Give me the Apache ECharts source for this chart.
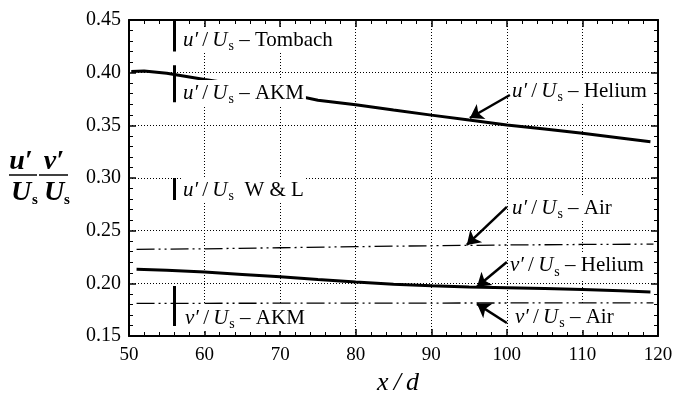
<!DOCTYPE html>
<html>
<head>
<meta charset="utf-8">
<script src="https://cdn.jsdelivr.net/npm/echarts@6/dist/echarts.min.js"></script>
<style>
  html, body { margin: 0; padding: 0; background: #fff; }
  #chart { width: 673px; height: 393px; }
</style>
</head>
<body>
<div id="chart"></div>
<script>
// Axis ranges and ticks
const xMin = 50, xMax = 120, xStep = 10;
const yMin = 0.15, yMax = 0.45, yStep = 0.05;

// Helium jet, streamwise fluctuation u'/Us
const uHeliumX = [50.3, 52, 55, 60, 65, 70, 75, 80, 85, 90, 95, 100, 105, 110, 115, 119];
const uHeliumY = [0.4012, 0.4015, 0.3995, 0.3935, 0.388, 0.3815, 0.3738, 0.3695, 0.3645, 0.3597, 0.355, 0.3504, 0.3465, 0.3424, 0.338, 0.3345];

// Helium jet, transverse fluctuation v'/Us
const vHeliumX = [51, 55, 60, 65, 70, 75, 80, 85, 90, 95, 100, 105, 110, 115, 119];
const vHeliumY = [0.2133, 0.2125, 0.2107, 0.2085, 0.2063, 0.2037, 0.2013, 0.1992, 0.1976, 0.1966, 0.1958, 0.195, 0.1942, 0.193, 0.1918];

// Air jet, u'/Us and v'/Us
const uAirX = [51, 60, 70, 80, 90, 100, 110, 119.4];
const uAirY = [0.2323, 0.2328, 0.2338, 0.2348, 0.2357, 0.2364, 0.2369, 0.2372];
const vAirX = [51, 80, 119.4];
const vAirY = [0.181, 0.1812, 0.1815];

// Reported ranges from other studies, all at x/d = 56
const rangeX = 56;
const rangeLow  = [0.42, 0.372, 0.279, 0.1595];
const rangeHigh = [0.45, 0.407, 0.300, 0.1975];

// Annotation texts: [symbol, source, left x, centre y]
const labelSymbol = ['u′', 'u′', 'u′', 'v′', 'u′', 'u′', 'v′', 'v′'];
const labelSource = ['– Tombach', '– AKM', ' W & L', '– AKM', '– Helium', '– Air', '– Helium', '– Air'];
const labelX = [56.88, 56.88, 56.88, 57.15, 100.4, 100.4, 100.15, 100.8];
const labelY = [0.431, 0.3806, 0.2886, 0.1671, 0.3826, 0.2715, 0.2165, 0.168];

// Arrows: tail (x, y) -> head (x, y)
const arrowTailX = [100.4, 100.0, 100.0, 100.0];
const arrowTailY = [0.3788, 0.2725, 0.2203, 0.1624];
const arrowHeadX = [95.1, 94.7, 96.05, 96.05];
const arrowHeadY = [0.357, 0.2365, 0.1968, 0.1805];

const SERIF = '"Liberation Serif", "Times New Roman", serif';
const pairs = (xs, ys) => xs.map((x, i) => [x, ys[i]]);

const dotted = { color: '#000', width: 1, type: [1, 2] };
const dashDotDot = [18, 4, 2, 4, 2, 4];

function axisX(pos, showLabels) {
  return {
    type: 'value', position: pos, min: xMin, max: xMax, interval: xStep,
    axisLine: { show: true, onZero: false, lineStyle: { color: '#000', width: 2 } },
    axisTick: { show: true, inside: true, length: 7, lineStyle: { color: '#000', width: 1.5 } },
    minorTick: { show: true, splitNumber: 5, length: 4, lineStyle: { color: '#000', width: 1 } },
    splitLine: { show: showLabels, lineStyle: dotted },
    axisLabel: { show: showLabels, fontFamily: SERIF, fontSize: 19, color: '#000', margin: 10 },
    name: showLabels ? 'x\u2009/\u2009d' : '',
    nameLocation: 'middle', nameGap: 30,
    nameTextStyle: { fontFamily: SERIF, fontSize: 26, fontStyle: 'italic', color: '#000', padding: [0, 0, 0, 9] }
  };
}
function axisY(pos, showLabels) {
  return {
    type: 'value', position: pos, min: yMin, max: yMax, interval: yStep,
    axisLine: { show: true, onZero: false, lineStyle: { color: '#000', width: 2 } },
    axisTick: { show: true, inside: true, length: 7, lineStyle: { color: '#000', width: 1.5 } },
    minorTick: { show: true, splitNumber: 5, length: 4, lineStyle: { color: '#000', width: 1 } },
    splitLine: { show: showLabels, lineStyle: dotted },
    axisLabel: { show: showLabels, fontFamily: SERIF, fontSize: 20, color: '#000', margin: 8,
      formatter: v => v.toFixed(2) }
  };
}

const labelData = labelSymbol.map((s, i) => ({
  value: [labelX[i], labelY[i]],
  label: { formatter: '{i|' + s + '}\u2009/\u2009{i|U}{s|s} ' + labelSource[i] }
}));

const chart = echarts.init(document.getElementById('chart'), null, { renderer: 'canvas' });
chart.setOption({
  animation: false,
  backgroundColor: '#fff',
  grid: { left: 129, right: 15, top: 20, bottom: 57, outerBoundsMode: 'none', containLabel: false },
  xAxis: [axisX('bottom', true), axisX('top', false)],
  yAxis: [axisY('left', true), axisY('right', false)],
  series: [
    { type: 'line', data: pairs(uHeliumX, uHeliumY), symbol: 'none', z: 3,
      lineStyle: { color: '#000', width: 3 } },
    { type: 'line', data: pairs(vHeliumX, vHeliumY), symbol: 'none', z: 3,
      lineStyle: { color: '#000', width: 3 } },
    { type: 'line', data: pairs(uAirX, uAirY), symbol: 'none', z: 3,
      lineStyle: { color: '#000', width: 1.3, type: dashDotDot } },
    { type: 'line', data: pairs(vAirX, vAirY), symbol: 'none', z: 3,
      lineStyle: { color: '#000', width: 1.3, type: dashDotDot } },
    { type: 'lines', coordinateSystem: 'cartesian2d', z: 6,
      data: rangeLow.map((lo, i) => ({ coords: [[rangeX, lo], [rangeX, rangeHigh[i]]] })),
      lineStyle: { color: '#000', width: 3, opacity: 1 } },
    { type: 'scatter', symbolSize: 0, z: 5, data: labelData,
      itemStyle: { opacity: 1 },
      label: {
        show: true, position: 'right', distance: 0,
        fontFamily: SERIF, fontSize: 21, color: '#000', opacity: 1,
        backgroundColor: '#fff', padding: [0, 2, 0, 2],
        rich: {
          i: { fontFamily: SERIF, fontSize: 21, fontStyle: 'italic', color: '#000' },
          s: { fontFamily: SERIF, fontSize: 14, color: '#000', padding: [12, 0, 0, 1] }
        }
      } },
    { type: 'lines', coordinateSystem: 'cartesian2d', z: 7,
      symbol: ['none', 'arrow'], symbolSize: 13,
      data: arrowTailX.map((x, i) => ({ coords: [[x, arrowTailY[i]], [arrowHeadX[i], arrowHeadY[i]]] })),
      lineStyle: { color: '#000', width: 2.5, opacity: 1 } }
  ],
  graphic: [
    { type: 'text', x: 21, y: 162, style: { text: 'u′', font: 'bold italic 28px ' + SERIF, fill: '#000', align: 'center', verticalAlign: 'middle' } },
    { type: 'line', shape: { x1: 9, y1: 175, x2: 37, y2: 175 }, style: { stroke: '#000', lineWidth: 1.5 } },
    { type: 'text', x: 21, y: 193, style: { text: 'U', font: 'bold italic 28px ' + SERIF, fill: '#000', align: 'center', verticalAlign: 'middle' } },
    { type: 'text', x: 32, y: 200, style: { text: 's', font: 'bold 15px ' + SERIF, fill: '#000', align: 'left', verticalAlign: 'middle' } },
    { type: 'text', x: 54, y: 162, style: { text: 'v′', font: 'bold italic 28px ' + SERIF, fill: '#000', align: 'center', verticalAlign: 'middle' } },
    { type: 'line', shape: { x1: 39, y1: 175, x2: 68, y2: 175 }, style: { stroke: '#000', lineWidth: 1.5 } },
    { type: 'text', x: 54, y: 193, style: { text: 'U', font: 'bold italic 28px ' + SERIF, fill: '#000', align: 'center', verticalAlign: 'middle' } },
    { type: 'text', x: 64, y: 200, style: { text: 's', font: 'bold 15px ' + SERIF, fill: '#000', align: 'left', verticalAlign: 'middle' } }
  ]
});
</script>
</body>
</html>
